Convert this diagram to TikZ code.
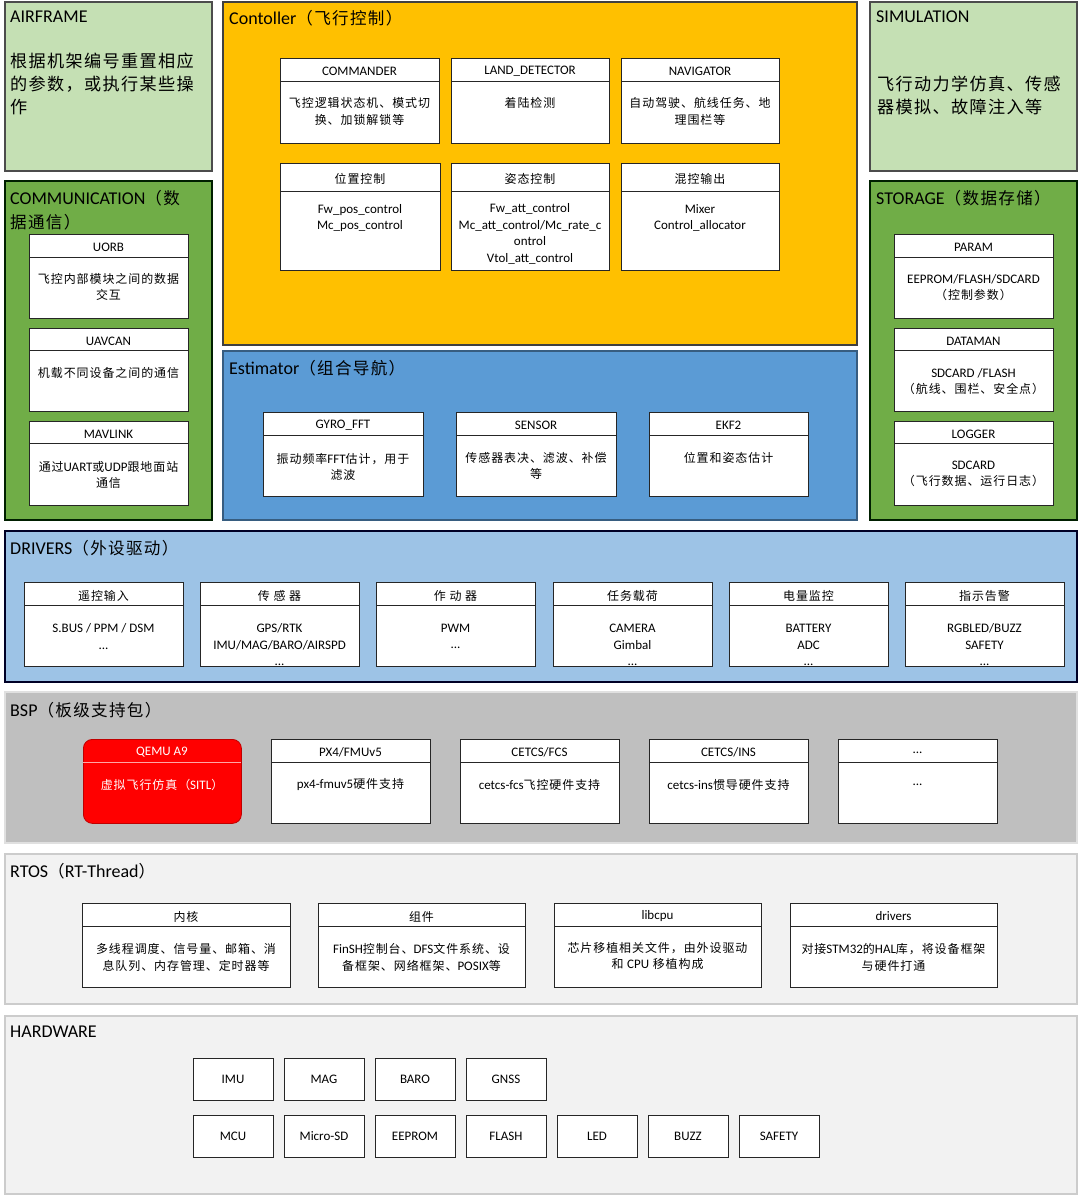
\documentclass[tikz,border=0pt]{standalone}
\usepackage{fontspec}
\setmainfont{Carlito}
\newfontfamily\cjk{Noto Sans CJK SC}[Scale=0.92,LetterSpace=8]
\usetikzlibrary{shadows}
\newcommand\zh[1]{{\cjk #1}}
\definecolor{afg}{HTML}{C5E0B4}
\definecolor{ctlc}{HTML}{FFC000}
\definecolor{comc}{HTML}{70AD47}
\definecolor{estc}{HTML}{5B9BD5}
\definecolor{drvc}{HTML}{9DC3E6}
\definecolor{bspc}{HTML}{BFBFBF}
\definecolor{rtc}{HTML}{F2F2F2}
\tikzset{
 panelst/.style={draw, line width=1.2pt, inner sep=0pt, outer sep=0pt, anchor=north west},
 bodyst/.style={draw=black!85, fill=white, line width=0.8pt, inner sep=0pt, outer sep=0pt, anchor=north west,
   general shadow={fill=black!35, shadow xshift=1pt, shadow yshift=-1pt}, font=\fontsize{13}{16}\selectfont},
 hdrst/.style={draw=black!85, line width=0.8pt, inner sep=0pt, outer sep=0pt, anchor=north west},
 txtst/.style={inner sep=0pt, align=center, font=\fontsize{13}{16.5}\selectfont},
 ttlst/.style={inner sep=0pt, anchor=west, align=left, font=\fontsize{18}{24}\selectfont},
 bigst/.style={inner sep=0pt, anchor=west, align=left, font=\fontsize{18.6}{23}\selectfont},
}
\newcommand\panel[6]{%
 \node[panelst, #6, minimum width={(#4-#2)*1pt}, minimum height={(#5-#3)*1pt}] (#1) at (#2,#3) {};}
\newcommand\tbox[9]{%
 \node[bodyst, minimum width={(#4-#2)*1pt}, minimum height={(#6-#3)*1pt}] (#1) at (#2,#3) {};
 \node[hdrst, minimum width={(#4-#2)*1pt}, minimum height={(#5-#3)*1pt}] (#1h) at (#2,#3) {};
 \node[txtst] (#1ht) at ({(#2+#4)/2},{(#3+#5)/2+2}) {#7};
 \node[txtst] (#1t) at ({(#2+#4)/2},#9) {#8};}
\newcommand\hw[4]{\node[bodyst, minimum width=80pt, minimum height=42pt] (#1) at (#2,#3) {#4};}
\begin{document}
\begin{tikzpicture}[x=1pt,y=-1pt]
\useasboundingbox (0,0) rectangle (1080,1197);
\fill[white] (0,0) rectangle (1080,1197);
% panels
\panel{airframe}{5}{2}{212}{171}{fill=afg, draw=black!70}
\panel{ctl}{223}{2}{857}{345}{fill=ctlc, draw=black!75}
\panel{sim}{870}{2}{1077}{171}{fill=afg, draw=black!70}
\panel{com}{5}{181}{212}{520}{fill=comc, draw=black!70!green!40!black}
\panel{est}{223}{351}{857}{520}{fill=estc, draw=estc!60!black}
\panel{sto}{870}{181}{1077}{520}{fill=comc, draw=black!70!green!40!black}
\panel{drv}{5}{531}{1077}{682}{fill=drvc, draw=black!75!blue!60!black}
\panel{bsp}{5}{692}{1077}{843}{fill=bspc, draw=black!12}
\panel{rtos}{5}{854}{1077}{1004}{fill=rtc, draw=black!20}
\panel{hwp}{5}{1016}{1077}{1194}{fill=rtc, draw=black!20}
% titles
\node[ttlst] (airt) at (10,17) {AIRFRAME};
\node[bigst] (airb) at (10,84) {\zh{根据机架编号重置相应}\\\zh{的参数，或执行某些操}\\\zh{作}};
\node[ttlst] (ctlt) at (229,18) {Contoller\zh{（飞行控制）}};
\node[ttlst] (simt) at (876,17) {SIMULATION};
\node[bigst] (simb) at (877,95.5) {\zh{飞行动力学仿真、传感}\\\zh{器模拟、故障注入等}};
\node[ttlst] (comt) at (10,210) {COMMUNICATION\zh{（数}\\\zh{据通信）}};
\node[ttlst] (stot) at (876,198) {STORAGE\zh{（数据存储）}};
\node[ttlst] (estt) at (229,368) {Estimator\zh{（组合导航）}};
\node[ttlst] (drvt) at (10,548) {DRIVERS\zh{（外设驱动）}};
\node[ttlst] (bspt) at (10,710) {BSP\zh{（板级支持包）}};
\node[ttlst] (rtost) at (10,871) {RTOS\zh{（}RT-Thread\zh{）}};
\node[ttlst] (hwt) at (10,1032) {HARDWARE};
% controller
\tbox{cmd}{280}{58}{439}{81}{143}{COMMANDER}{\zh{飞控逻辑状态机、模式切}\\\zh{换、加锁解锁等}}{111.5}
\tbox{land}{451}{58}{609}{81}{143}{LAND\_DETECTOR}{\zh{着陆检测}}{103}
\tbox{nav}{621}{58}{779}{81}{143}{NAVIGATOR}{\zh{自动驾驶、航线任务、地}\\\zh{理围栏等}}{111.5}
\tbox{pos}{280}{163}{440}{191}{270}{\zh{位置控制}}{Fw\_pos\_control\\Mc\_pos\_control}{218}
\tbox{att}{451}{163}{609}{191}{270}{\zh{姿态控制}}{Fw\_att\_control\\Mc\_att\_control/Mc\_rate\_c\\ontrol\\Vtol\_att\_control}{234}
\tbox{mix}{621}{163}{779}{191}{270}{\zh{混控输出}}{Mixer\\Control\_allocator}{218}
% communication
\tbox{uorb}{29}{234}{188}{257}{318}{UORB}{\zh{飞控内部模块之间的数据}\\\zh{交互}}{287}
\tbox{uavcan}{29}{328}{188}{350}{411}{UAVCAN}{\zh{机载不同设备之间的通信}}{373}
\tbox{mavlink}{29}{421}{188}{443}{505}{MAVLINK}{\zh{通过}UART\zh{或}UDP\zh{跟地面站}\\\zh{通信}}{475}
% storage
\tbox{param}{894}{234}{1053}{257}{318}{PARAM}{EEPROM/FLASH/SDCARD\\\zh{（控制参数）}}{287.5}
\tbox{dataman}{894}{328}{1053}{350}{411}{DATAMAN}{SDCARD /FLASH\\\zh{（航线、围栏、安全点）}}{381.5}
\tbox{logger}{894}{421}{1053}{443}{505}{LOGGER}{SDCARD\\\zh{（飞行数据、运行日志）}}{474}
% estimator
\tbox{gyro}{263}{412}{423}{435}{496}{GYRO\_FFT}{\zh{振动频率}FFT\zh{估计，用于}\\\zh{滤波}}{467}
\tbox{sensor}{456}{412}{616}{435}{496}{SENSOR}{\zh{传感器表决、滤波、补偿}\\\zh{等}}{466}
\tbox{ekf}{649}{412}{808}{435}{496}{EKF2}{\zh{位置和姿态估计}}{458}
% drivers
\tbox{rc}{24}{582}{183}{605}{666}{\zh{遥控输入}}{S.BUS / PPM / DSM\\...}{636.5}
\tbox{sens}{200}{582}{359}{605}{666}{\zh{传 感 器}}{GPS/RTK\\IMU/MAG/BARO/AIRSPD\\...}{645}
\tbox{act}{376}{582}{535}{605}{666}{\zh{作 动 器}}{PWM\\...}{636.5}
\tbox{pay}{553}{582}{712}{605}{666}{\zh{任务载荷}}{CAMERA\\Gimbal\\...}{645}
\tbox{bat}{729}{582}{888}{605}{666}{\zh{电量监控}}{BATTERY\\ADC\\...}{645}
\tbox{ind}{905}{582}{1064}{605}{666}{\zh{指示告警}}{RGBLED/BUZZ\\SAFETY\\...}{645}
% bsp
\node[draw=red!75!black, fill=red, rounded corners=9pt, line width=0.8pt, anchor=north west, inner sep=0pt,
  minimum width=158pt, minimum height=84pt] (qemu) at (83,739) {};
\node[inner sep=0pt, anchor=north west, minimum width=158pt, minimum height=23pt] (qemuh) at (83,739) {};
\node[txtst, text=white] (qemuht) at (162,752.5) {QEMU A9};
\draw[white!65!red, line width=0.8pt] (qemuh.south west) -- (qemuh.south east);
\node[txtst, text=white] (qemut) at (162,785) {\zh{虚拟飞行仿真（}SITL\zh{）}};
\tbox{px4}{271}{739}{430}{762}{823}{PX4/FMUv5}{px4-fmuv5\zh{硬件支持}}{785}
\tbox{fcs}{460}{739}{619}{762}{823}{CETCS/FCS}{cetcs-fcs\zh{飞控硬件支持}}{785}
\tbox{ins}{649}{739}{808}{762}{823}{CETCS/INS}{cetcs-ins\zh{惯导硬件支持}}{785}
\tbox{more}{838}{739}{997}{762}{823}{...}{...}{785}
% rtos
\tbox{kern}{82}{903}{290}{926}{987}{\zh{内核}}{\zh{多线程调度、信号量、邮箱、消}\\\zh{息队列、内存管理、定时器等}}{957.5}
\tbox{comp}{318}{903}{525}{926}{987}{\zh{组件}}{FinSH\zh{控制台、}DFS\zh{文件系统、设}\\\zh{备框架、网络框架、}POSIX\zh{等}}{957.5}
\tbox{libcpu}{554}{903}{761}{926}{987}{libcpu}{\zh{芯片移植相关文件，由外设驱动}\\\zh{和 }CPU\zh{ 移植构成}}{956}
\tbox{rdrv}{790}{903}{997}{926}{987}{drivers}{\zh{对接}STM32\zh{的}HAL\zh{库，将设备框架}\\\zh{与硬件打通}}{957.5}
% hardware
\hw{imu}{193}{1058}{IMU}
\hw{mag}{284}{1058}{MAG}
\hw{baro}{375}{1058}{BARO}
\hw{gnss}{466}{1058}{GNSS}
\hw{mcu}{193}{1115}{MCU}
\hw{msd}{284}{1115}{Micro-SD}
\hw{eeprom}{375}{1115}{EEPROM}
\hw{flash}{466}{1115}{FLASH}
\hw{led}{557}{1115}{LED}
\hw{buzz}{648}{1115}{BUZZ}
\hw{safety}{739}{1115}{SAFETY}
\end{tikzpicture}
\end{document}
